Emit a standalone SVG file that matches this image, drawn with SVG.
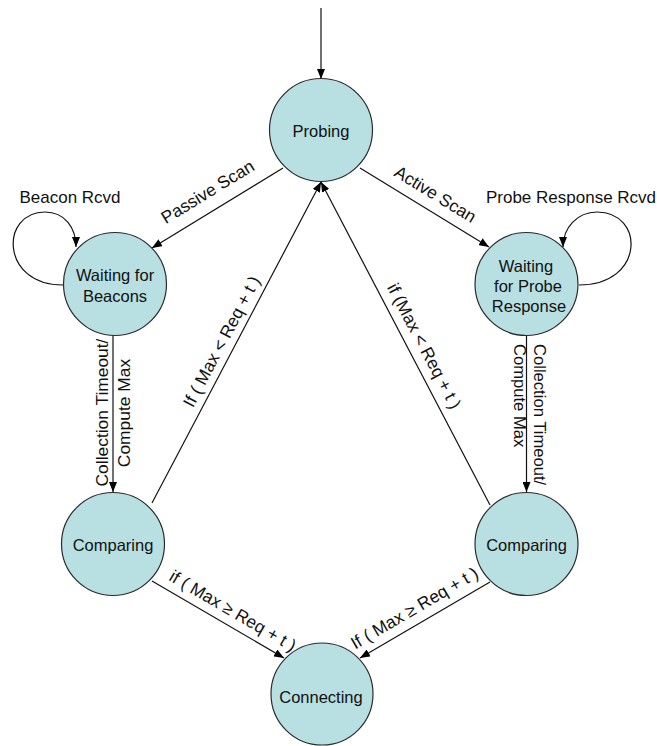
<svg xmlns="http://www.w3.org/2000/svg" width="657" height="746" viewBox="0 0 657 746">
<style>
.node{fill:#B8DFE1;stroke:#2a2a2a;stroke-width:1.2}
.nl{font-family:"Liberation Sans",Arial,sans-serif;font-size:16.5px;fill:#111;text-anchor:middle}
.ll{font-family:"Liberation Sans",Arial,sans-serif;font-size:17px;fill:#111;text-anchor:middle}
.el{font-family:"Liberation Sans",Arial,sans-serif;font-size:17.4px;fill:#111;text-anchor:middle}
.es{font-family:"Liberation Sans",Arial,sans-serif;font-size:16.6px;fill:#111;text-anchor:start}
.edge{fill:none;stroke:#111;stroke-width:1.2;marker-end:url(#arr)}
</style>
<defs>
<marker id="arr" viewBox="0 0 10 8" refX="10" refY="4" markerWidth="10" markerHeight="8" markerUnits="userSpaceOnUse" orient="auto">
<path d="M0,0 L10,4 L0,8 z" fill="#000"/>
</marker>
</defs>
<rect width="657" height="746" fill="#fff"/>
<g id="connectors">
<path class="edge" d="M321,8 L321,79"/>
<path class="edge" d="M283,168 L152,248"/>
<path class="edge" d="M360,168 L489,247"/>
<path class="edge" d="M63,285 C0,285 0,212 45,212 C65,212 76,228 76,247"/>
<path class="edge" d="M579,285 C645,285 645,212 597,212 C577,212 563,228 563,247"/>
<path class="edge" d="M113,335 L113,492"/>
<path class="edge" d="M526.5,335 L526.5,492"/>
<path class="edge" d="M152,503 L321,182"/>
<path class="edge" d="M490,505 L321,182"/>
<path class="edge" d="M152,581 L284,658"/>
<path class="edge" d="M490,582 L360,658"/>
<text class="ll" x="70" y="203">Beacon Rcvd</text>
<text class="ll" x="571" y="203">Probe Response Rcvd</text>
<text class="el" transform="translate(217.5,208) rotate(-31.4)" y="-13">Passive Scan</text>
<text class="el" transform="translate(426.5,208.7) rotate(31.5)" y="-11">Active Scan</text>
<text class="el" transform="translate(108,412.5) rotate(-90)">Collection Timeout/</text>
<text class="el" transform="translate(129.5,413) rotate(-90)">Compute Max</text>
<text class="es" transform="translate(533.5,344) rotate(90)">Collection Timeout/</text>
<text class="es" transform="translate(513.5,344) rotate(90)">Compute Max</text>
<text class="el" transform="translate(234,348) rotate(-62.2)" y="-8">If ( Max &lt; Req + t )</text>
<text class="el" transform="translate(411,353) rotate(62.3)" y="-9">if (Max &lt; Req + t )</text>
<text class="el" transform="translate(225.3,623.7) rotate(30.3)" y="-9">if ( Max ≥ Req + t )</text>
<text class="el" transform="translate(422,621) rotate(-30.3)" y="-9">If ( Max ≥ Req + t )</text>
</g>
<g id="probing">
<circle class="node" cx="321" cy="130" r="51.5"/>
<text class="nl" x="321" y="137">Probing</text>
</g>
<g id="waiting-beacons">
<circle class="node" cx="115" cy="284" r="51.5"/>
<text class="nl" x="115" y="281">Waiting for</text>
<text class="nl" x="115" y="302">Beacons</text>
</g>
<g id="waiting-probe">
<circle class="node" cx="526.5" cy="284" r="51.5"/>
<text class="nl" x="526" y="271.5">Waiting</text>
<text class="nl" x="528" y="291.5">for Probe</text>
<text class="nl" x="529" y="311.5">Response</text>
</g>
<g id="comparing-left">
<circle class="node" cx="113" cy="544" r="51.5"/>
<text class="nl" x="113" y="551">Comparing</text>
</g>
<g id="comparing-right">
<circle class="node" cx="526.5" cy="544" r="51.5"/>
<text class="nl" x="526.5" y="551">Comparing</text>
</g>
<g id="connecting">
<circle class="node" cx="322" cy="694" r="51"/>
<text class="nl" x="321" y="703">Connecting</text>
</g>
</svg>
